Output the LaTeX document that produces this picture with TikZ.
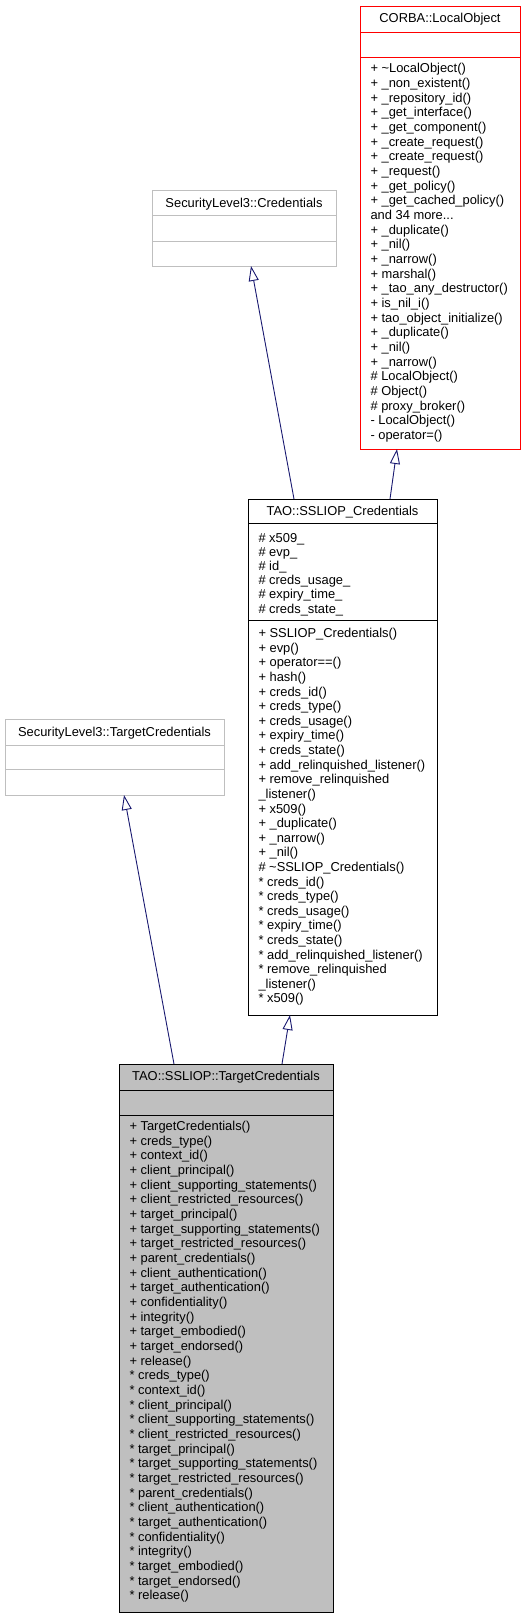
\documentclass[tikz,border=0pt]{standalone}
\usepackage{fontspec}
\setmainfont{Liberation Sans}
\usetikzlibrary{arrows.meta}
\definecolor{arrowblue}{HTML}{191970}
\definecolor{greyseventyfive}{HTML}{BFBFBF}
\definecolor{boxred}{HTML}{FF0000}
\newcommand\mydots{...}
\newcommand\rowlist[5]{%
  \foreach \txt [count=\i from 0] in {#5} {
    \node[row] (#1-\i) at (#2, {#3+\i*#4}) {\txt};
  }}
\begin{document}
\begin{tikzpicture}[x=1pt,y=-1pt,
  every node/.style={font=\fontsize{12.9pt}{14.67pt}\selectfont, inner sep=0pt, outer sep=0pt},
  row/.style={anchor=base west},
  title/.style={anchor=base},
  box/.style={draw, line width=0.9pt, anchor=north west, inner sep=0pt, outer sep=0pt},
  sepline/.style={line width=0.9pt},
  inh/.style={draw=arrowblue, line width=0.9pt, -{Triangle[open,length=15pt,width=10pt]}}]
\useasboundingbox (0,0) rectangle (525,1616);

% CORBA::LocalObject
\node[box, draw=boxred, minimum width=160pt, minimum height=443pt] (corba) at (360,6) {};
\draw[sepline, boxred] (360,32) -- (520,32);
\draw[sepline, boxred] (360,57) -- (520,57);
\node[title] (corba-t) at (440,22.8) {CORBA::LocalObject};
\rowlist{corba}{370.5}{72.7}{14.67}{
+ \textasciitilde LocalObject(),
+ \_non\_existent(),
+ \_repository\_id(),
+ \_get\_interface(),
+ \_get\_component(),
+ \_create\_request(),
+ \_create\_request(),
+ \_request(),
+ \_get\_policy(),
+ \_get\_cached\_policy(),
and 34 more\mydots,
+ \_duplicate(),
+ \_nil(),
+ \_narrow(),
+ marshal(),
+ \_tao\_any\_destructor(),
+ is\_nil\_i(),
+ tao\_object\_initialize(),
+ \_duplicate(),
+ \_nil(),
+ \_narrow(),
\# LocalObject(),
\# Object(),
\# proxy\_broker(),
- LocalObject(),
- operator=()}

% SecurityLevel3::Credentials
\node[box, draw=greyseventyfive, minimum width=184pt, minimum height=76pt] (cred) at (152,190) {};
\draw[sepline, greyseventyfive] (152,215) -- (336,215);
\draw[sepline, greyseventyfive] (152,241) -- (336,241);
\node[title] (cred-t) at (244,207.4) {SecurityLevel3::Credentials};

% SecurityLevel3::TargetCredentials
\node[box, draw=greyseventyfive, minimum width=219pt, minimum height=76pt] (tc3) at (5,719) {};
\draw[sepline, greyseventyfive] (5,745) -- (224,745);
\draw[sepline, greyseventyfive] (5,769) -- (224,769);
\node[title] (tc3-t) at (114.5,736.4) {SecurityLevel3::TargetCredentials};

% TAO::SSLIOP_Credentials
\node[box, draw=black, minimum width=189pt, minimum height=516pt] (ssl) at (248,499) {};
\draw[sepline] (248,523.3) -- (437,523.3);
\draw[sepline] (248,620) -- (437,620);
\node[title] (ssl-t) at (342.5,515.4) {TAO::SSLIOP\_Credentials};
\rowlist{sslattr}{258.5}{542}{14.2}{
\# x509\_,
\# evp\_,
\# id\_,
\# creds\_usage\_,
\# expiry\_time\_,
\# creds\_state\_}
\rowlist{sslop}{258.5}{637.7}{14.61}{
+ SSLIOP\_Credentials(),
+ evp(),
+ operator==(),
+ hash(),
+ creds\_id(),
+ creds\_type(),
+ creds\_usage(),
+ expiry\_time(),
+ creds\_state(),
+ add\_relinquished\_listener(),
+ remove\_relinquished,
\_listener(),
+ x509(),
+ \_duplicate(),
+ \_narrow(),
+ \_nil(),
\# \textasciitilde SSLIOP\_Credentials(),
* creds\_id(),
* creds\_type(),
* creds\_usage(),
* expiry\_time(),
* creds\_state(),
* add\_relinquished\_listener(),
* remove\_relinquished,
\_listener(),
* x509()}

% TAO::SSLIOP::TargetCredentials
\node[box, draw=black, fill=greyseventyfive, minimum width=214pt, minimum height=548pt] (main) at (119,1064) {};
\draw[sepline] (119,1090) -- (333,1090);
\draw[sepline] (119,1115) -- (333,1115);
\node[title] (main-t) at (226,1080.7) {TAO::SSLIOP::TargetCredentials};
\rowlist{mainop}{129.5}{1130.4}{14.67}{
+ TargetCredentials(),
+ creds\_type(),
+ context\_id(),
+ client\_principal(),
+ client\_supporting\_statements(),
+ client\_restricted\_resources(),
+ target\_principal(),
+ target\_supporting\_statements(),
+ target\_restricted\_resources(),
+ parent\_credentials(),
+ client\_authentication(),
+ target\_authentication(),
+ confidentiality(),
+ integrity(),
+ target\_embodied(),
+ target\_endorsed(),
+ release(),
* creds\_type(),
* context\_id(),
* client\_principal(),
* client\_supporting\_statements(),
* client\_restricted\_resources(),
* target\_principal(),
* target\_supporting\_statements(),
* target\_restricted\_resources(),
* parent\_credentials(),
* client\_authentication(),
* target\_authentication(),
* confidentiality(),
* integrity(),
* target\_embodied(),
* target\_endorsed(),
* release()}

% inheritance connectors
\draw[inh] ([xshift=46pt]ssl.north west) -- ([xshift=99pt]cred.south west);
\draw[inh] ([xshift=142pt]ssl.north west) -- ([xshift=37pt]corba.south west);
\draw[inh] ([xshift=55pt]main.north west) -- ([xshift=119pt]tc3.south west);
\draw[inh] ([xshift=163pt]main.north west) -- ([xshift=42pt]ssl.south west);
\end{tikzpicture}
\end{document}
